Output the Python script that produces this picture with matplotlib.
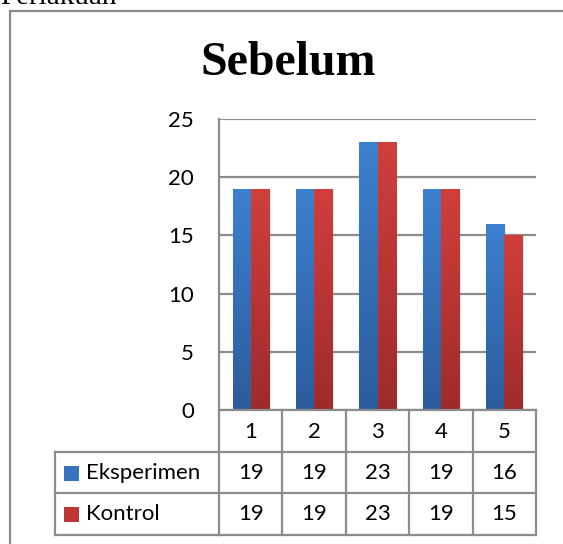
import numpy as np
import matplotlib
matplotlib.use("Agg")
import matplotlib.pyplot as plt
from matplotlib.patches import Rectangle
from matplotlib.transforms import blended_transform_factory
from matplotlib.colors import to_rgb

# ---- data ----
categories = ["1", "2", "3", "4", "5"]
series_names = ["Eksperimen", "Kontrol"]
eksperimen = [19, 19, 23, 19, 16]
kontrol = [19, 19, 23, 19, 15]
y_ticks = [0, 5, 10, 15, 20, 25]
title = "Sebelum"
caption = "Perlakuan"

W, H = 563, 544
fig = plt.figure(figsize=(W / 100, H / 100), dpi=100)

def fx(x):
    return x / W

def fy(y):
    return 1 - y / H

SANS = ["Lato", "DejaVu Sans"]
SERIF = ["Liberation Serif", "DejaVu Serif"]
GRID = "#8c8c8c"

# caption text cut at top
fig.text(fx(0), fy(4.5), caption, fontsize=21, family=SERIF,
         ha="left", va="baseline", color="black")

# outer frame
fig.patches.append(Rectangle((fx(9.5), fy(560)), fx(570) - fx(9.5), fy(10.5) - fy(560),
                             transform=fig.transFigure, fill=False,
                             edgecolor="#8a8a8a", lw=1.6, zorder=1))

# title
fig.text(fx(288), fy(75), title, fontsize=34.5, family=SERIF, fontweight="bold",
         ha="center", va="baseline")

# axes
ax = fig.add_axes([fx(219), fy(410), fx(536) - fx(219), fy(119) - fy(410)])
x = np.arange(1, len(categories) + 1)
bw = 0.284
blue_top, blue_bot = to_rgb("#3d80cf"), to_rgb("#2c5c9c")
red_top, red_bot = to_rgb("#d03f3c"), to_rgb("#9e2b2b")

def grad(top, bot, n=64):
    t = np.linspace(0, 1, n)[:, None]
    a = np.array(top)[None, :] * (1 - t) + np.array(bot)[None, :] * t
    return a[:, None, :]

for vals, off, (ct, cb) in [(eksperimen, -bw / 2, (blue_top, blue_bot)),
                            (kontrol, bw / 2, (red_top, red_bot))]:
    bars = ax.bar(x + off, vals, width=bw, color="none", edgecolor="none", zorder=3)
    for b in bars:
        x0, w_, h_ = b.get_x(), b.get_width(), b.get_height()
        # soft shadow
        ax.add_patch(Rectangle((x0 + 0.03, 0), w_, h_ - 0.15, facecolor="#000000",
                               alpha=0.08, edgecolor="none", zorder=2.5))
        im = ax.imshow(grad(ct, cb), extent=[x0, x0 + w_, 0, h_], origin="upper",
                       aspect="auto", zorder=3, interpolation="bilinear")
        im.set_clip_path(b)

ax.set_xlim(0.5, len(categories) + 0.5)
ax.set_ylim(0, 25)
ax.set_yticks(y_ticks)
ax.set_yticklabels([str(v) for v in y_ticks], family=SANS, fontsize=16)
ax.tick_params(axis="y", length=0, pad=18)
ax.set_xticks([])
ax.yaxis.grid(True, color=GRID, lw=1.6)
ax.set_axisbelow(True)
for s in ["top", "right", "bottom"]:
    ax.spines[s].set_visible(False)
ax.spines["left"].set_color(GRID)
ax.spines["left"].set_linewidth(1.6)

# data table
tr = blended_transform_factory(ax.transData, fig.transFigure)
row_y = [410, 451.5, 492.5, 534.5]
lw = 1.6
# horizontal lines in category area
for i, yy in enumerate(row_y):
    ax.plot([0.5, len(categories) + 0.5], [fy(yy)] * 2, transform=tr, color=GRID,
            lw=lw, clip_on=False, zorder=5, solid_capstyle="projecting")
# vertical lines
for k in range(len(categories) + 1):
    ax.plot([0.5 + k] * 2, [fy(row_y[0]), fy(row_y[-1])], transform=tr, color=GRID,
            lw=lw, clip_on=False, zorder=5)
# legend column
for yy in row_y[1:]:
    fig.lines.append(plt.Line2D([fx(54.5), fx(219)], [fy(yy)] * 2, transform=fig.transFigure,
                                color=GRID, lw=lw))
fig.lines.append(plt.Line2D([fx(54.5)] * 2, [fy(row_y[1]), fy(row_y[-1])],
                            transform=fig.transFigure, color=GRID, lw=lw))

# header row
for i, c in enumerate(categories):
    ax.text(x[i], fy((row_y[0] + row_y[1]) / 2 + 1), c, transform=tr, ha="center",
            va="center", family=SANS, fontsize=16, clip_on=False)
# value rows
for r, (vals, name, col) in enumerate([(eksperimen, series_names[0], "#3772bd"),
                                       (kontrol, series_names[1], "#c03634")]):
    yc = (row_y[r + 1] + row_y[r + 2]) / 2 + 1
    for i, v in enumerate(vals):
        ax.text(x[i], fy(yc), str(v), transform=tr, ha="center", va="center",
                family=SANS, fontsize=16, clip_on=False)
    fig.patches.append(Rectangle((fx(64), fy(yc + 7.5)), fx(15), 15 / H,
                                 transform=fig.transFigure, facecolor=col, edgecolor="none"))
    fig.text(fx(86), fy(yc), name, family=SANS, fontsize=16, ha="left", va="center")

fig.savefig("out.png", dpi=100)
